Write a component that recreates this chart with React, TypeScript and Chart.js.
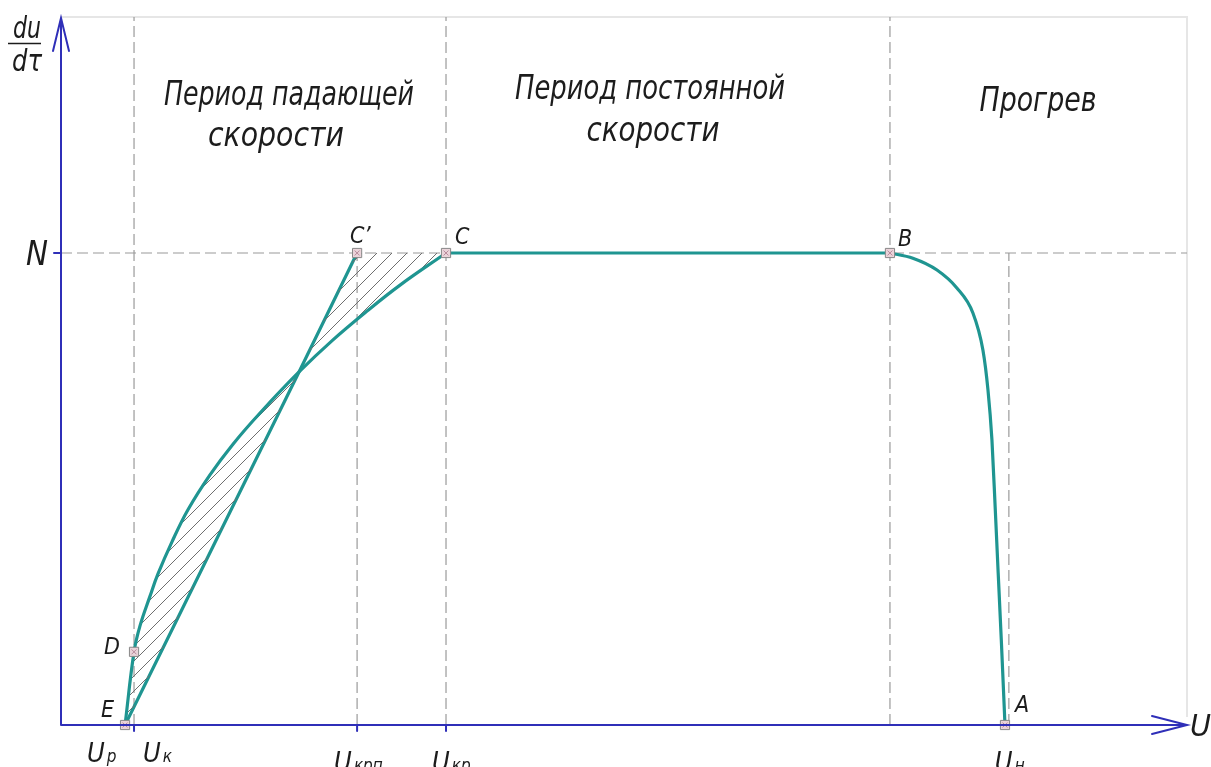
import React, { useEffect, useRef } from 'react';
import { Chart, registerables } from 'chart.js';

Chart.register(...registerables);

const W = 1211;
const H = 767;

// ---- data (moisture content U in relative units, drying rate du/dτ with N = 1) ----
const uMax = 119.03;
const rateMax = 1.5;
const N = 1;

// real falling-rate curve E – D – C
const fallingU = [6.77, 7.72, 8.35, 9.41, 10.25, 11.73, 13.42, 15.75, 18.18, 21.04, 25.16, 28.75, 32.35, 35.84, 40.7];
const fallingRate = [0, 0.155, 0.21, 0.273, 0.32, 0.388, 0.456, 0.53, 0.595, 0.661, 0.748, 0.816, 0.877, 0.932, 1];

// straight-line approximation E – C'
const approxU = [6.77, 25.16, 31.3];
const approxRate = [0, 0.748, 1];

// constant-rate period C – B
const constU = [40.7, 87.63];
const constRate = [1, 1];

// warming-up period B – A
const warmU = [87.63, 90.05, 92.6, 94.7, 96.4, 97.46, 97.99, 98.41, 98.75, 99.07, 99.4, 99.79];
const warmRate = [1, 0.989, 0.964, 0.926, 0.873, 0.794, 0.71, 0.604, 0.462, 0.322, 0.18, 0];

// key points
const pointNames = ['E', 'D', 'C\u2019', 'C', 'B', 'A'];
const pointU = [6.77, 7.72, 31.3, 40.7, 87.63, 99.79];
const pointRate = [0, 0.155, 1, 1, 1, 0];

// moisture-content marks on the U axis
const markSubs = ['\u0440', '\u043a', '\u043a\u0440\u043f', '\u043a\u0440', '\u043d'];
const markU = [6.77, 7.72, 31.3, 40.7, 100.2];
const tickU = [7.72, 31.3, 40.7];

// dashed guide lines
const guideU = [7.72, 31.3, 40.7, 87.63, 100.2];
const guideTop = [1.5, 1, 1.5, 1.5, 1];

// period titles
const zoneLines = [
  'Период падающей',
  'скорости',
  'Период постоянной',
  'скорости',
  'Прогрев',
];

// ---- styling (kept out of data) ----
const TEAL = '#1f9591';
const BLUE = '#2f2fb8';
const DASH = '#9a9a9a';
const INK = '#1c1c1c';
const FONT = '"Liberation Sans Narrow", "DejaVu Sans Condensed", "Liberation Sans", sans-serif';

const zoneLayout = [
  { cx: 289, y: 105, w: 250 },
  { cx: 276, y: 146, w: 136 },
  { cx: 650, y: 99, w: 270 },
  { cx: 653, y: 141, w: 133 },
  { cx: 1038, y: 111, w: 117 },
];
const pointLabelOffset = [
  { dx: -24, dy: -8 },
  { dx: -30, dy: 2 },
  { dx: -7, dy: -10 },
  { dx: 9, dy: -9 },
  { dx: 8, dy: -7 },
  { dx: 10, dy: -13 },
];
const markLayout = [
  { dx: -38, y: 762 },
  { dx: 9, y: 762 },
  { dx: -23, y: 771 },
  { dx: -14, y: 771 },
  { dx: -14, y: 771 },
];

function textFit(ctx: CanvasRenderingContext2D, text: string, x: number, y: number, size: number, width: number | null, align: CanvasTextAlign = 'left') {
  ctx.save();
  ctx.font = `italic ${size}px ${FONT}`;
  const m = ctx.measureText(text).width;
  const sx = width ? width / m : 1;
  ctx.translate(x, y);
  ctx.scale(sx, 1);
  ctx.textAlign = align;
  ctx.textBaseline = 'alphabetic';
  ctx.fillStyle = INK;
  ctx.fillText(text, 0, 0);
  ctx.restore();
}

function xy(us: number[], vs: number[]) {
  return us.map((u, i) => ({ x: u, y: vs[i] }));
}

function makeHatch(): CanvasPattern | string {
  const s = 15;
  const c = document.createElement('canvas');
  c.width = s;
  c.height = s;
  const g = c.getContext('2d');
  if (!g) return 'rgba(0,0,0,0.1)';
  g.strokeStyle = '#6f6f6f';
  g.lineWidth = 1;
  g.beginPath();
  g.moveTo(0, s);
  g.lineTo(s, 0);
  g.moveTo(-2, 2);
  g.lineTo(2, -2);
  g.moveTo(s - 2, s + 2);
  g.lineTo(s + 2, s - 2);
  g.stroke();
  const p = g.createPattern(c, 'repeat');
  return p || 'rgba(0,0,0,0.1)';
}

const decorPlugin = {
  id: 'decor',
  beforeDatasetsDraw(chart: any) {
    const ctx: CanvasRenderingContext2D = chart.ctx;
    const a = chart.chartArea;
    ctx.save();
    ctx.strokeStyle = '#e6e6e6';
    ctx.lineWidth = 2;
    ctx.beginPath();
    ctx.moveTo(a.left, a.top);
    ctx.lineTo(a.right, a.top);
    ctx.lineTo(a.right, a.bottom - 8);
    ctx.stroke();
    ctx.restore();
  },
  afterDatasetsDraw(chart: any) {
    const ctx: CanvasRenderingContext2D = chart.ctx;
    const xs = chart.scales.x;
    const ys = chart.scales.y;
    const x0 = xs.getPixelForValue(0);
    const y0 = ys.getPixelForValue(0);
    const yTop = ys.getPixelForValue(rateMax);
    const xEnd = xs.getPixelForValue(uMax);
    ctx.save();
    ctx.strokeStyle = BLUE;
    ctx.lineWidth = 2;
    ctx.lineCap = 'round';
    ctx.beginPath();
    ctx.moveTo(x0, y0);
    ctx.lineTo(x0, yTop + 1);
    ctx.moveTo(x0, y0);
    ctx.lineTo(xEnd, y0);
    ctx.moveTo(x0 - 8, yTop + 34);
    ctx.lineTo(x0, yTop + 1);
    ctx.lineTo(x0 + 8, yTop + 34);
    ctx.moveTo(xEnd - 35, y0 - 9);
    ctx.lineTo(xEnd, y0);
    ctx.lineTo(xEnd - 35, y0 + 9);
    tickU.forEach((u) => {
      const px = xs.getPixelForValue(u);
      ctx.moveTo(px, y0);
      ctx.lineTo(px, y0 + 6);
    });
    const yN = ys.getPixelForValue(N);
    ctx.moveTo(x0 - 7, yN);
    ctx.lineTo(x0, yN);
    ctx.stroke();
    ctx.restore();

    // axis names
    textFit(ctx, 'du', 13, 38, 30, 28);
    ctx.save();
    ctx.strokeStyle = INK;
    ctx.lineWidth = 1.5;
    ctx.beginPath();
    ctx.moveTo(8, 43.5);
    ctx.lineTo(41, 43.5);
    ctx.stroke();
    ctx.restore();
    textFit(ctx, 'd\u03c4', 12, 71, 30, 30);
    textFit(ctx, 'N', 26, yN + 12, 34, 22);
    textFit(ctx, 'U', xEnd + 3, y0 + 11, 30, 21);

    zoneLines.forEach((t, i) => {
      const L = zoneLayout[i];
      textFit(ctx, t, L.cx, L.y, 34, L.w, 'center');
    });

    pointNames.forEach((t, i) => {
      const px = xs.getPixelForValue(pointU[i]);
      const py = ys.getPixelForValue(pointRate[i]);
      const o = pointLabelOffset[i];
      textFit(ctx, t, px + o.dx, py + o.dy, 23, null);
    });

    markSubs.forEach((s, i) => {
      const px = xs.getPixelForValue(markU[i]);
      const L = markLayout[i];
      ctx.save();
      ctx.font = `italic 27px ${FONT}`;
      const uw = ctx.measureText('U').width;
      ctx.restore();
      textFit(ctx, 'U', px + L.dx, L.y, 27, null);
      textFit(ctx, s, px + L.dx + uw + 2, L.y, 17, null);
    });
  },
};

export default function App() {
  const ref = useRef<HTMLCanvasElement | null>(null);

  useEffect(() => {
    const canvas = ref.current;
    if (!canvas) return;
    const hatch = makeHatch();

    const guideSets = guideU.map((u, i) => ({
      label: 'guide' + i,
      data: [
        { x: u, y: 0 },
        { x: u, y: guideTop[i] },
      ],
      borderColor: DASH,
      borderWidth: 1.2,
      borderDash: [11, 5],
      pointRadius: 0,
      fill: false,
      tension: 0,
      order: 10,
    }));

    const datasets: any[] = [
      {
        label: 'points',
        data: xy(pointU, pointRate),
        showLine: false,
        pointStyle: 'rect',
        pointRadius: 6.5,
        pointBackgroundColor: '#ead3d9',
        pointBorderColor: '#888888',
        pointBorderWidth: 1,
        clip: false,
        order: 0,
      },
      {
        label: 'points-x',
        data: xy(pointU, pointRate),
        showLine: false,
        pointStyle: 'crossRot',
        pointRadius: 3.5,
        pointBorderColor: '#b98b9c',
        pointBorderWidth: 1,
        clip: false,
        order: -1,
      },
      {
        label: 'falling',
        data: xy(fallingU, fallingRate),
        borderColor: TEAL,
        borderWidth: 3.2,
        pointRadius: 0,
        tension: 0.4,
        fill: 3,
        backgroundColor: hatch,
        order: 2,
      },
      {
        label: 'hatch-bound',
        data: xy(approxU.concat([constU[0]]), approxRate.concat([constRate[0]])),
        borderColor: 'rgba(0,0,0,0)',
        borderWidth: 0,
        pointRadius: 0,
        tension: 0,
        fill: false,
        order: 3,
      },
      {
        label: 'approx',
        data: xy(approxU, approxRate),
        borderColor: TEAL,
        borderWidth: 3.2,
        pointRadius: 0,
        tension: 0,
        fill: false,
        order: 2,
      },
      {
        label: 'constant',
        data: xy(constU, constRate),
        borderColor: TEAL,
        borderWidth: 3.2,
        pointRadius: 0,
        tension: 0,
        fill: false,
        order: 2,
      },
      {
        label: 'warming',
        data: xy(warmU, warmRate),
        borderColor: TEAL,
        borderWidth: 3.2,
        pointRadius: 0,
        cubicInterpolationMode: 'monotone',
        fill: false,
        clip: false,
        order: 2,
      },
      {
        label: 'N',
        data: [
          { x: 0, y: N },
          { x: uMax, y: N },
        ],
        borderColor: DASH,
        borderWidth: 1.2,
        borderDash: [11, 5],
        pointRadius: 0,
        fill: false,
        order: 10,
      },
      ...guideSets,
    ];

    const chart = new Chart(canvas, {
      type: 'line',
      data: { datasets },
      options: {
        animation: false,
        responsive: false,
        devicePixelRatio: 1,
        layout: { padding: { left: 61, top: 17, right: W - 1187, bottom: H - 725 } },
        plugins: {
          legend: { display: false },
          tooltip: { enabled: false },
          filler: { propagate: false },
        },
        events: [],
        scales: {
          x: { type: 'linear', min: 0, max: uMax, display: false },
          y: { type: 'linear', min: 0, max: rateMax, display: false },
        },
      },
      plugins: [decorPlugin],
    });
    return () => chart.destroy();
  }, []);

  return (
    <div style={{ position: 'fixed', left: 0, top: 0, width: W, height: H, background: '#ffffff', overflow: 'hidden' }}>
      <canvas ref={ref} width={W} height={H} style={{ display: 'block', width: W, height: H }} />
    </div>
  );
}
